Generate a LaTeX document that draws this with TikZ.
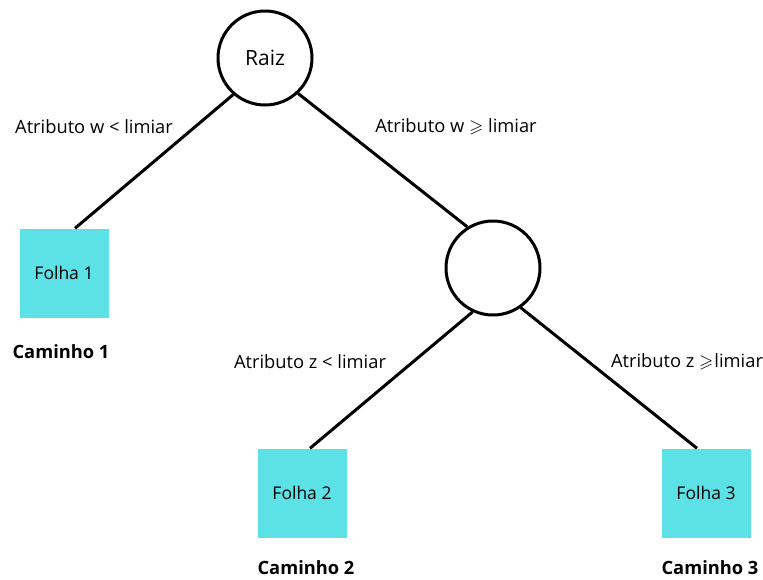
\documentclass[tikz,border=0pt]{standalone}
\usepackage{amssymb}
\usepackage{fontspec}
\setmainfont{Open Sans}
\definecolor{folhacyan}{HTML}{5CE1E6}

\begin{document}
\begin{tikzpicture}[x=1pt,y=-1pt,
    decisao/.style={circle,draw=black,line width=3pt,minimum size=94pt,inner sep=0pt,font=\fontsize{21}{24}\selectfont},
    folha/.style={rectangle,fill=folhacyan,minimum size=89pt,inner sep=0pt,font=\fontsize{17.5}{20}\selectfont},
    ramo/.style={line width=3pt},
    rotulo/.style={font=\fontsize{18.3}{22}\selectfont},
    caminho/.style={font=\bfseries\fontsize{18.3}{22}\selectfont}]
  \useasboundingbox (0,0) rectangle (763,579);
  %% nodes of the tree
  \node[decisao] (raiz) at (265,58) {Raiz};
  \node[decisao] (teste) at (493,268) {};
  \node[folha] (folha1) at (64,273) {Folha 1};
  \node[folha] (folha2) at (302,493) {Folha 2};
  \node[folha] (folha3) at (706,493) {Folha 3};
  %% branches
  \draw[ramo] (raiz.229) -- ([xshift=11pt]folha1.north);
  \draw[ramo] (raiz.313) -- (teste.122);
  \draw[ramo] (teste.245) -- ([xshift=8pt]folha2.north);
  \draw[ramo] (teste.305) -- ([xshift=-9pt]folha3.north);
  %% branch labels
  \node[rotulo] (rw1) at (94,127) {Atributo w < limiar};
  \node[rotulo] (rw2) at (456,127) {Atributo w $\geqslant$ limiar};
  \node[rotulo] (rz1) at (310,362) {Atributo z < limiar};
  \node[rotulo] (rz2) at (687,362) {Atributo z $\geqslant$\kern1pt limiar};
  %% paths
  \node[caminho] (c1) at (61,352) {Caminho 1};
  \node[caminho] (c2) at (306,568) {Caminho 2};
  \node[caminho] (c3) at (710,568) {Caminho 3};
\end{tikzpicture}
\end{document}
